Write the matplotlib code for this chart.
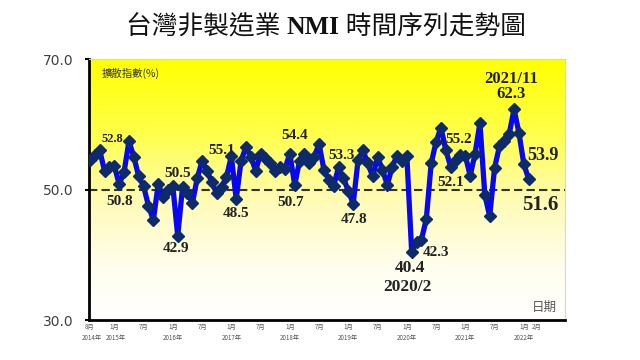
import numpy as np
import matplotlib
matplotlib.use('Agg')
import matplotlib.pyplot as plt
from matplotlib.colors import LinearSegmentedColormap

# monthly NMI, 2014/8 .. 2022/2
nmi = [54.5, 55.3, 56.0, 52.8, 53.5, 53.6, 50.8, 52.7, 57.4, 55.0,
       52.0, 50.5, 47.5, 45.3, 50.8, 48.9, 50.0, 50.5, 42.9, 50.4,
       49.5, 47.9, 51.7, 54.4, 52.9, 51.1, 49.4, 50.4, 51.9, 55.1,
       48.5, 54.4, 56.5, 55.0, 52.9, 55.5, 54.8, 54.0, 52.9, 53.5,
       53.2, 55.5, 50.7, 54.4, 55.5, 54.0, 55.0, 57.0, 53.0, 51.5,
       50.6, 53.4, 51.7, 49.8, 47.8, 54.5, 56.0, 54.0, 52.0, 55.0,
       53.0, 50.7, 53.5, 55.2, 54.3, 55.2, 40.4, 42.0, 42.3, 45.5,
       54.0, 57.3, 59.5, 56.0, 53.5, 54.5, 55.3, 55.2, 52.1, 55.5,
       60.2, 49.2, 45.9, 53.3, 56.6, 57.5, 58.5, 62.3, 58.7, 53.9, 51.6]

month_pos = [0, 5, 11, 17, 23, 29, 35, 41, 47, 53, 59, 65, 71, 77, 83, 89, 91.6]
month_txt = ['8月', '1月', '7月', '1月', '7月', '1月', '7月', '1月', '7月',
             '1月', '7月', '1月', '7月', '1月', '7月', '1月', '2月']
year_pos = [0.4, 5.3, 17, 29, 41, 53, 65, 77, 89]
year_txt = ['2014年', '2015年', '2016年', '2017年', '2018年', '2019年',
            '2020年', '2021年', '2022年']

# value labels: text, x, y, size
labels = [('52.8', 4.5, 57.8, 9), ('50.8', 6.0, 48.2, 11),
          ('50.5', 18.0, 52.5, 11), ('42.9', 17.6, 41.0, 11),
          ('55.1', 27.1, 56.0, 11), ('48.5', 30.0, 46.3, 11),
          ('54.4', 41.9, 58.3, 11), ('50.7', 41.2, 48.0, 11),
          ('53.3', 51.5, 55.2, 11), ('47.8', 54.2, 45.4, 11),
          ('40.4', 65.7, 37.9, 12.5), ('2020/2', 65.2, 35.1, 12.5),
          ('42.3', 71.0, 40.3, 11), ('52.1', 74.1, 51.1, 11),
          ('55.2', 75.7, 57.7, 11), ('2021/11', 86.4, 67.0, 12),
          ('62.3', 86.4, 64.7, 12), ('53.9', 92.9, 55.2, 13),
          ('51.6', 92.3, 47.7, 15)]

cjk = ['Noto Sans CJK TC', 'DejaVu Sans']
serif = ['Liberation Serif', 'DejaVu Serif']

fig = plt.figure(figsize=(6.4, 3.6), dpi=100)
ax = fig.add_axes([89/640, 40/360, 476/640, 261/360])

# yellow -> white background
cmap = LinearSegmentedColormap.from_list('bg', [(0, '#ffff00'), (0.3, '#ffff50'),
                                                (0.55, '#fffbb8'), (0.8, '#fffeee'),
                                                (1, '#ffffff')])
grad = np.linspace(0, 1, 256).reshape(-1, 1)
ax.imshow(grad, cmap=cmap, aspect='auto', extent=(0, 1, 0, 1),
          transform=ax.transAxes, zorder=0)

x = np.arange(len(nmi))
ax.axhline(50, color='#333333', lw=1.5, ls=(0, (4, 2)), zorder=1)
ax.plot(x, nmi, color='#0808f0', lw=3.8, zorder=2)
ax.plot(x, nmi, ls='none', marker='D', ms=6.5, color='#0d2a6b', zorder=3)

ax.set_xlim(-0.2, 97.45)
ax.set_ylim(30, 70)
ax.set_yticks([30, 50, 70])
ax.set_yticklabels(['30.0', '50.0', '70.0'], fontsize=10, color='#404040')
ax.tick_params(axis='y', length=3, width=1.5, pad=8)
ax.set_xticks([])

for s in ['left', 'bottom']:
    ax.spines[s].set_linewidth(2)
    ax.spines[s].set_color('black')
for s in ['top', 'right']:
    ax.spines[s].set_linewidth(0.8)
    ax.spines[s].set_color('#d8d8c8')

tr = ax.get_xaxis_transform()
for p, t in zip(month_pos, month_txt):
    ax.text(p, -0.027, t, transform=tr, ha='center', va='center',
            fontsize=4.5, color='#555555', family=cjk)
for p, t in zip(year_pos, year_txt):
    ax.text(p, -0.069, t, transform=tr, ha='center', va='center',
            fontsize=4.5, color='#555555', family=cjk)

for t, lx, ly, sz in labels:
    ax.text(lx, ly, t, ha='center', va='center', fontsize=sz,
            weight='bold', color='#222222', family=serif, zorder=4)

ax.text(0.027, 0.943, '擴散指數(%)', transform=ax.transAxes, ha='left',
        va='center', fontsize=7.5, color='#333333', family=cjk)
ax.text(0.983, 0.05, '日期', transform=ax.transAxes, ha='right',
        va='center', fontsize=9, color='#555555', family=cjk)

# title in three pieces (CJK sans + bold serif NMI)
parts = [('台灣非製造業 ', dict(family=cjk, size=18.5)),
         ('NMI', dict(family=serif, size=18.5, weight='bold')),
         (' 時間序列走勢圖', dict(family=cjk, size=18.5))]
texts = [fig.text(0, 0.905, s, ha='left', va='baseline', color='#111111', **kw)
         for s, kw in parts]
fig.canvas.draw()
r = fig.canvas.get_renderer()
widths = [t.get_window_extent(r).width for t in texts]
xp = 326 - sum(widths) / 2
for t, w in zip(texts, widths):
    t.set_x(xp / 640)
    xp += w

fig.savefig('out.png', dpi=100)
